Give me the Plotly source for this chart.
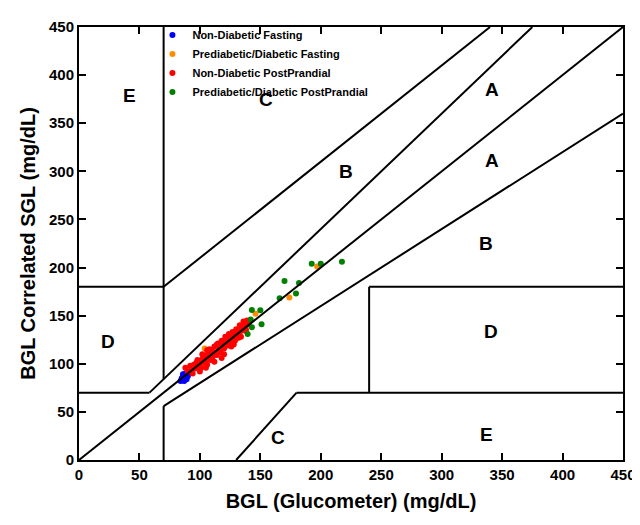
import plotly.graph_objects as go

nd_fast_x = [84, 85, 86, 87, 88, 89, 90, 86, 88, 91, 85, 87, 89, 92, 90, 86]
nd_fast_y = [82, 84, 83, 86, 85, 88, 90, 87, 90, 92, 85, 82, 84, 91, 87, 89]
pd_fast_x = [100, 104, 130, 146, 174, 197, 115, 96]
pd_fast_y = [99, 116, 126, 152, 169, 201, 112, 97]
nd_pp_x = [88, 90, 92, 93, 95, 96, 97, 98, 99, 100, 101, 102, 103, 104, 105, 106, 107, 108, 109, 110,
           111, 112, 113, 114, 115, 116, 117, 118, 119, 120, 121, 122, 123, 124, 125, 126, 127, 128,
           129, 130, 131, 132, 133, 134, 135, 136, 137, 138, 139, 140, 94, 98, 102, 106, 110, 114,
           118, 122, 126, 130, 134, 138, 105, 112, 120, 128, 100, 108]
nd_pp_y = [96, 92, 98, 93, 99, 95, 101, 97, 103, 100, 96, 105, 101, 108, 103, 99, 110, 106, 104, 113,
           108, 118, 112, 109, 121, 115, 112, 124, 119, 116, 128, 122, 119, 131, 126, 123, 133, 128,
           124, 136, 131, 127, 140, 134, 137, 144, 139, 134, 145, 141, 90, 104, 110, 114, 105, 120,
           106, 126, 118, 130, 128, 136, 96, 102, 110, 120, 92, 115]
pd_pp_x = [139.5, 143, 151, 142, 150, 143, 166, 179.5, 182, 170, 192.5, 200, 217.5]
pd_pp_y = [131, 138, 141, 146, 155.5, 156, 168, 173, 184, 186, 204, 204, 206]

zone_labels = ["E", "C", "A", "A", "B", "B", "D", "D", "C", "E"]
zone_x = [42, 155, 342, 342, 221, 337, 24, 341, 165, 337]
zone_y = [379, 375, 385, 311, 300, 225, 123, 134, 23, 27]

segments = [
    ([0, 58.33], [70, 70]), ([58.33, 375], [70, 450]),
    ([70, 70], [0, 56]), ([70, 450], [56, 360]),
    ([70, 70], [84, 450]), ([0, 70], [180, 180]), ([70, 340], [180, 450]),
    ([130, 180], [0, 70]), ([180, 450], [70, 70]),
    ([240, 240], [70, 180]), ([240, 450], [180, 180]),
]

fig = go.Figure()
for sx, sy in segments:
    fig.add_trace(go.Scatter(x=sx, y=sy, mode="lines", line=dict(color="black", width=2),
                             showlegend=False, hoverinfo="skip"))
for name, xs, ys, c in [
    ("Non-Diabetic Fasting", nd_fast_x, nd_fast_y, "#0000ff"),
    ("Prediabetic/Diabetic Fasting", pd_fast_x, pd_fast_y, "#ff8c00"),
    ("Non-Diabetic PostPrandial", nd_pp_x, nd_pp_y, "#ff0000"),
    ("Prediabetic/Diabetic PostPrandial", pd_pp_x, pd_pp_y, "#008000"),
]:
    fig.add_trace(go.Scatter(x=xs, y=ys, mode="markers", name=name,
                             marker=dict(color=c, size=6)))
fig.add_trace(go.Scatter(x=[0, 450], y=[0, 450], mode="lines", line=dict(color="black", width=2),
                         showlegend=False, hoverinfo="skip"))
for t, x, y in zip(zone_labels, zone_x, zone_y):
    fig.add_annotation(x=x, y=y, text=t, showarrow=False,
                       font=dict(family="Liberation Sans", size=19, color="black", weight="bold"))

ax = dict(range=[0, 450], dtick=50, showgrid=False, zeroline=False, showline=True, mirror="ticks",
          linecolor="black", linewidth=2, ticks="inside", ticklen=7, tickwidth=2, tickcolor="black",
          automargin=False,
          tickfont=dict(family="Liberation Sans", size=15, color="black", weight="bold"))
fig.update_layout(
    width=640, height=525, plot_bgcolor="white", paper_bgcolor="white",
    margin=dict(l=71, r=25, t=15, b=73),
    xaxis=dict(ax, title=dict(text="BGL (Glucometer) (mg/dL)", standoff=12,
                              font=dict(family="Liberation Sans", size=20, color="black", weight="bold"))),
    yaxis=dict(ax, title=dict(text="BGL Correlated SGL (mg/dL)", standoff=8,
                              font=dict(family="Liberation Sans", size=20, color="black", weight="bold"))),
    legend=dict(x=0.135, y=1.015, xanchor="left", yanchor="top", bgcolor="rgba(0,0,0,0)",
                font=dict(family="Liberation Sans", size=11, color="black", weight="bold"),
                tracegroupgap=0, itemwidth=30),
)
fig.write_html("out.html")
